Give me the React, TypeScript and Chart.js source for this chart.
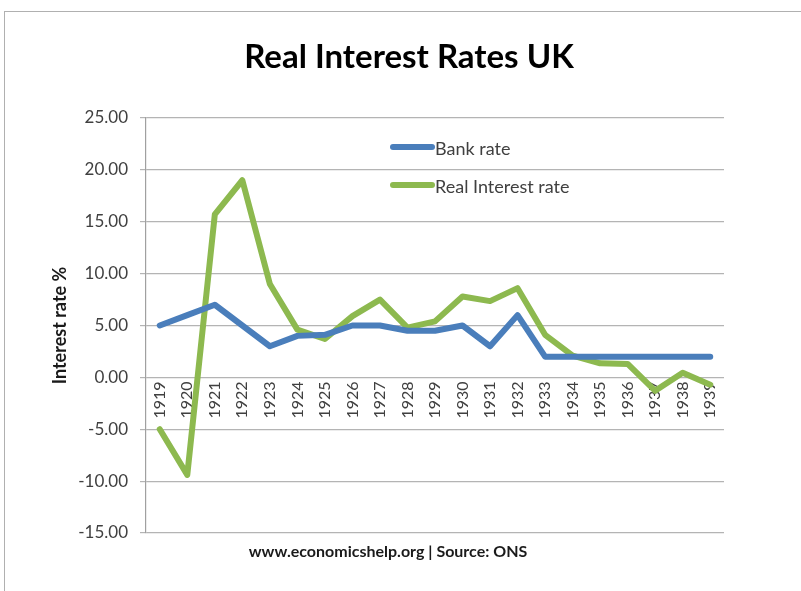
import React, { useEffect, useRef } from 'react';
import { Chart, registerables } from 'chart.js';

Chart.register(...registerables);

const years = ['1919', '1920', '1921', '1922', '1923', '1924', '1925', '1926', '1927', '1928', '1929', '1930', '1931', '1932', '1933', '1934', '1935', '1936', '1937', '1938', '1939'];
const bankRate = [5, 6, 7, 5, 3, 4, 4.1, 5, 5, 4.5, 4.5, 5, 3, 6, 2, 2, 2, 2, 2, 2, 2];
const realRate = [-5, -9.4, 15.7, 19, 9, 4.6, 3.7, 5.9, 7.5, 4.8, 5.4, 7.8, 7.35, 8.6, 4.1, 2.1, 1.35, 1.3, -1.3, 0.45, -0.7];
const seriesNames = ['Bank rate', 'Real Interest rate'];
const seriesColors = ['#4A7EBB', '#8DB94F'];
const yMin = -15;
const yMax = 25;
const yStep = 5;
const titleText = 'Real Interest Rates UK';
const yAxisTitle = 'Interest rate %';
const captionText = 'www.economicshelp.org | Source: ONS';

const FONT = 'Lato, "Open Sans", sans-serif';

const overlayPlugin = {
  id: 'overlayText',
  afterDatasetsDraw(chart: any) {
    const { ctx, chartArea } = chart;
    ctx.save();
    // legend
    const lx = chartArea.left + 244;
    const ly = chartArea.top + 29;
    chart.data.datasets.forEach((ds: any, i: number) => {
      const y = ly + i * 38;
      ctx.strokeStyle = ds.borderColor;
      ctx.lineWidth = 6;
      ctx.lineCap = 'round';
      ctx.beginPath();
      ctx.moveTo(lx + 3, y);
      ctx.lineTo(lx + 42, y);
      ctx.stroke();
      ctx.fillStyle = '#404040';
      ctx.font = `18px ${FONT}`;
      ctx.textAlign = 'left';
      ctx.textBaseline = 'middle';
      ctx.fillText(ds.label, lx + 45, y + 2);
    });
    // title
    ctx.fillStyle = '#000000';
    ctx.font = `bold 33px ${FONT}`;
    ctx.textAlign = 'center';
    ctx.textBaseline = 'middle';
    ctx.fillText(titleText, 409, 57);
    // caption
    ctx.fillStyle = '#1a1a1a';
    ctx.font = `bold 16px ${FONT}`;
    ctx.fillText(captionText, chartArea.left + 242, chartArea.bottom + 19);
    ctx.restore();
  },
};

export default function App() {
  const canvasRef = useRef<HTMLCanvasElement | null>(null);

  useEffect(() => {
    if (!canvasRef.current) return;
    const chart = new Chart(canvasRef.current, {
      type: 'line',
      data: {
        labels: years,
        datasets: [
          {
            label: seriesNames[0],
            data: bankRate,
            borderColor: seriesColors[0],
            backgroundColor: seriesColors[0],
            borderWidth: 6,
            pointRadius: 0,
            tension: 0,
            borderJoinStyle: 'round',
            borderCapStyle: 'round',
          },
          {
            label: seriesNames[1],
            data: realRate,
            borderColor: seriesColors[1],
            backgroundColor: seriesColors[1],
            borderWidth: 6,
            pointRadius: 0,
            tension: 0,
            borderJoinStyle: 'round',
            borderCapStyle: 'round',
          },
        ],
      },
      options: {
        responsive: false,
        animation: false,
        devicePixelRatio: 1,
        layout: { padding: { left: 45, right: 77, top: 118, bottom: 58 } },
        plugins: {
          legend: { display: false },
          title: { display: false },
          tooltip: { enabled: false },
        },
        scales: {
          x: {
            type: 'category',
            position: { y: 0 },
            offset: true,
            grid: { display: false, drawTicks: false },
            border: { display: false },
            ticks: {
              autoSkip: false,
              minRotation: 90,
              maxRotation: 90,
              padding: 4,
              color: '#404040',
              font: { family: FONT, size: 16 },
            },
          },
          y: {
            min: yMin,
            max: yMax,
            position: 'left',
            afterFit: (scale: any) => {
              scale.width = 101;
            },
            ticks: {
              stepSize: yStep,
              padding: 12,
              color: '#404040',
              font: { family: FONT, size: 17 },
              callback: (v: any) => Number(v).toFixed(2),
            },
            grid: {
              color: '#B4B4B4',
              lineWidth: 1.2,
              drawTicks: true,
              tickLength: 6,
            },
            border: { display: true, color: '#A0A0A0', width: 1.2 },
            title: {
              display: true,
              text: yAxisTitle,
              color: '#1a1a1a',
              font: { family: FONT, size: 18, weight: 'bold' },
            },
          },
        },
      },
      plugins: [overlayPlugin],
    });
    return () => chart.destroy();
  }, []);

  return (
    <div style={{ position: 'absolute', left: 0, top: 0, width: 801, height: 591, overflow: 'hidden', background: '#ffffff' }}>
      <div
        style={{
          position: 'absolute',
          left: 4,
          top: 11,
          width: 900,
          height: 700,
          borderTop: '1px solid #B0B0B0',
          borderLeft: '1px solid #B0B0B0',
        }}
      />
      <canvas ref={canvasRef} width={801} height={591} style={{ position: 'absolute', left: 0, top: 0, width: 801, height: 591 }} />
    </div>
  );
}
